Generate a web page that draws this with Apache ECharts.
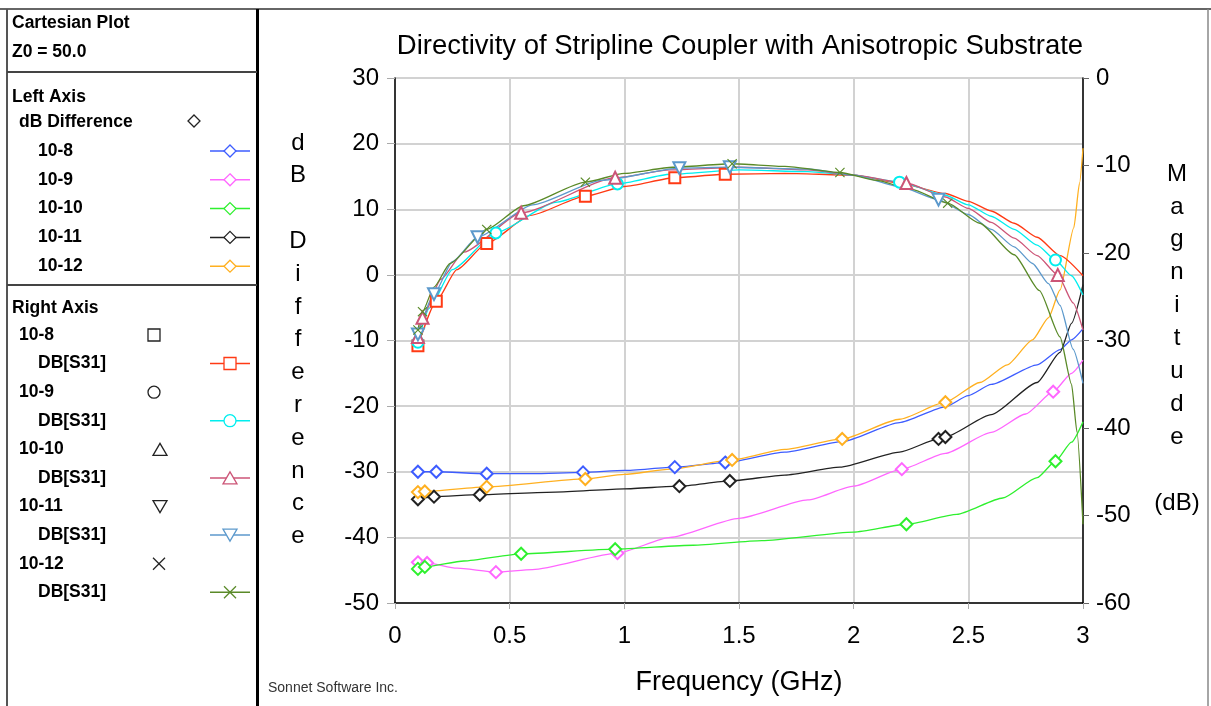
<!DOCTYPE html>
<html><head><meta charset="utf-8">
<script src="https://cdn.jsdelivr.net/npm/echarts@6/dist/echarts.min.js"></script>
<style>html,body{margin:0;padding:0;background:#fff}#c{width:1211px;height:706px}</style>
</head><body><div id="c"></div>
<script>
// ---------- DATA (frequency in GHz) ----------
// Left axis: dB Difference
const d108_f = [0.1, 0.18, 0.4, 0.6, 0.82, 1.0, 1.22, 1.44, 1.7, 1.95, 2.2, 2.4, 2.5, 2.6, 2.8, 2.9, 2.95, 3.0];
const d108_v = [-30.0, -30.0, -30.3, -30.3, -30.1, -29.8, -29.3, -28.6, -27.0, -25.4, -22.5, -20.1, -18.4, -16.7, -13.7, -11.4, -9.9, -8.2];
const d108_m = [0.1, 0.18, 0.4, 0.82, 1.22, 1.44];

const d109_f = [0.1, 0.14, 0.27, 0.44, 0.6, 0.97, 1.2, 1.5, 1.8, 2.0, 2.21, 2.4, 2.6, 2.75, 2.87, 2.95, 3.0];
const d109_v = [-43.8, -43.9, -44.7, -45.3, -44.9, -42.4, -40.0, -37.1, -34.3, -32.2, -29.6, -27.2, -24.0, -21.2, -17.8, -15.0, -13.0];
const d109_m = [0.1, 0.14, 0.44, 0.97, 2.21, 2.87];

const d1010_f = [0.1, 0.13, 0.3, 0.55, 0.96, 1.3, 1.6, 2.0, 2.23, 2.45, 2.65, 2.8, 2.88, 2.95, 3.0];
const d1010_v = [-44.8, -44.5, -43.6, -42.5, -41.8, -41.2, -40.5, -39.2, -38.0, -36.5, -34.0, -30.9, -28.4, -25.5, -22.4];
const d1010_m = [0.1, 0.13, 0.55, 0.96, 2.23, 2.88];

const d1011_f = [0.1, 0.17, 0.37, 0.7, 1.0, 1.24, 1.46, 1.7, 1.94, 2.2, 2.37, 2.4, 2.6, 2.8, 2.9, 2.95, 3.0];
const d1011_v = [-34.2, -33.8, -33.5, -33.1, -32.6, -32.2, -31.4, -30.5, -29.3, -27.0, -25.0, -24.7, -21.3, -16.4, -11.8, -7.4, -1.5];
const d1011_m = [0.1, 0.17, 0.37, 1.24, 1.46, 2.37, 2.4];

const d1012_f = [0.1, 0.13, 0.4, 0.83, 1.0, 1.2, 1.47, 1.7, 1.95, 2.2, 2.4, 2.55, 2.67, 2.78, 2.85, 2.9, 2.96, 2.985, 3.0];
const d1012_v = [-33.1, -33.0, -32.3, -31.1, -30.4, -29.6, -28.2, -26.6, -25.0, -22.0, -19.4, -16.4, -13.7, -9.9, -6.5, -2.3, 7.2, 14.0, 19.3];
const d1012_m = [0.1, 0.13, 0.4, 0.83, 1.47, 1.95, 2.4];

// Right axis: DB[S31]
const s108_f = [0.1, 0.18, 0.27, 0.4, 0.59, 0.83, 1.0, 1.22, 1.44, 1.7, 2.0, 2.2, 2.4, 2.5, 2.6, 2.7, 2.8, 2.9, 3.0];
const s108_v = [-30.6, -25.5, -21.9, -18.9, -15.7, -13.5, -12.4, -11.4, -11.0, -10.9, -11.1, -12.0, -13.2, -14.1, -15.2, -16.6, -18.2, -20.3, -22.6];
const s108_m = [0.1, 0.18, 0.4, 0.83, 1.22, 1.44];

const s109_f = [0.1, 0.15, 0.25, 0.44, 0.7, 0.97, 1.2, 1.5, 1.8, 2.0, 2.2, 2.4, 2.5, 2.6, 2.7, 2.8, 2.88, 2.95, 3.0];
const s109_v = [-30.2, -26.3, -21.9, -17.7, -14.2, -12.1, -11.0, -10.5, -10.7, -11.1, -11.9, -13.4, -14.5, -15.8, -17.3, -19.1, -20.8, -22.6, -24.8];
const s109_m = [0.1, 0.44, 0.97, 2.2, 2.88];

const s1010_f = [0.1, 0.12, 0.2, 0.3, 0.55, 0.96, 1.2, 1.5, 1.8, 2.0, 2.23, 2.4, 2.5, 2.6, 2.7, 2.8, 2.89, 2.957, 3.0];
const s1010_v = [-29.6, -27.4, -23.0, -19.9, -15.4, -11.4, -10.5, -10.2, -10.5, -11.1, -12.0, -13.6, -14.9, -16.5, -18.3, -20.3, -22.5, -25.7, -28.8];
const s1010_m = [0.1, 0.12, 0.55, 0.96, 2.23, 2.89];

const s1011_f = [0.1, 0.17, 0.25, 0.36, 0.6, 0.9, 1.24, 1.46, 1.8, 2.0, 2.2, 2.37, 2.5, 2.6, 2.7, 2.78, 2.85, 2.9, 2.957, 3.0];
const s1011_v = [-29.3, -24.7, -21.0, -18.2, -14.5, -11.7, -10.3, -10.2, -10.4, -11.1, -12.4, -13.9, -15.6, -17.3, -19.3, -21.2, -23.5, -26.0, -31.0, -34.9];
const s1011_m = [0.1, 0.17, 0.36, 1.24, 1.46, 2.37];

const s1012_f = [0.1, 0.12, 0.17, 0.24, 0.4, 0.56, 0.83, 1.0, 1.21, 1.47, 1.7, 1.94, 2.1, 2.25, 2.41, 2.55, 2.7, 2.81, 2.9, 2.95, 2.974, 3.0];
const s1012_v = [-28.8, -26.7, -23.9, -21.2, -17.3, -14.6, -11.9, -10.9, -10.2, -9.8, -10.1, -10.8, -11.7, -12.7, -14.3, -16.6, -20.2, -24.3, -29.6, -35.0, -40.5, -51.0];
const s1012_m = [0.1, 0.12, 0.4, 0.83, 1.47, 1.94, 2.41];

// ---------- STYLE ----------
const FONT = "'Liberation Sans', Arial, sans-serif";
const C = {
  b108: '#3d5cff', b109: '#ff66ff', b1010: '#2ef02e', b1011: '#222222', b1012: '#ffb020',
  r108: '#ff3a14', r109: '#00eeee', r1010: '#cc5577', r1011: '#5c99cc', r1012: '#5a8a28'
};
const XPATH = 'path://M0,0.8L0.8,0L5,4.2L9.2,0L10,0.8L5.8,5L10,9.2L9.2,10L5,5.8L0.8,10L0,9.2L4.2,5Z';

function mk(name, f, v, m, color, symbol, axis, size, rot) {
  const isX = symbol === XPATH;
  return {
    name, type: 'line', yAxisIndex: axis, smooth: 0.2, smoothMonotone: 'x',
    showAllSymbol: true, animation: false,
    lineStyle: { color, width: 1.3 },
    itemStyle: isX ? { color, borderWidth: 0 } : { color, borderColor: color, borderWidth: 1.3 },
    data: f.map((x, i) => m.includes(x)
      ? { value: [x, v[i]], symbol, symbolSize: size, symbolRotate: rot || 0 }
      : { value: [x, v[i]], symbol: 'none' })
  };
}

const series = [
  mk('10-8', d108_f, d108_v, d108_m, C.b108, 'emptyDiamond', 0, 12),
  mk('10-9', d109_f, d109_v, d109_m, C.b109, 'emptyDiamond', 0, 12),
  mk('10-10', d1010_f, d1010_v, d1010_m, C.b1010, 'emptyDiamond', 0, 12),
  mk('10-11', d1011_f, d1011_v, d1011_m, C.b1011, 'emptyDiamond', 0, 12),
  mk('10-12', d1012_f, d1012_v, d1012_m, C.b1012, 'emptyDiamond', 0, 12),
  mk('10-8 DB[S31]', s108_f, s108_v, s108_m, C.r108, 'emptyRect', 1, 11),
  mk('10-9 DB[S31]', s109_f, s109_v, s109_m, C.r109, 'emptyCircle', 1, 11),
  mk('10-10 DB[S31]', s1010_f, s1010_v, s1010_m, C.r1010, 'emptyTriangle', 1, 12),
  mk('10-11 DB[S31]', s1011_f, s1011_v, s1011_m, C.r1011, 'emptyTriangle', 1, 12, 180),
  mk('10-12 DB[S31]', s1012_f, s1012_v, s1012_m, C.r1012, XPATH, 1, 10)
];

// ---------- LEGEND PANEL (decoration) ----------
const g = [];
function txt(x, y, s, opt) {
  g.push({ type: 'text', silent: true, x, y,
    style: Object.assign({ text: s, font: 'bold 17.5px ' + FONT, fill: '#000', textVerticalAlign: 'middle' }, opt || {}) });
}
function ln(x1, y1, x2, y2, stroke, w) {
  g.push({ type: 'line', silent: true, shape: { x1, y1, x2, y2 }, style: { stroke, lineWidth: w } });
}
function sym(kind, cx, cy, color) {
  const st = { fill: '#fff', stroke: color, lineWidth: 1.3 };
  if (kind === 'diamond') g.push({ type: 'polygon', silent: true, shape: { points: [[cx, cy - 6], [cx + 6, cy], [cx, cy + 6], [cx - 6, cy]] }, style: st });
  if (kind === 'rect') g.push({ type: 'rect', silent: true, shape: { x: cx - 6, y: cy - 6, width: 12, height: 12 }, style: st });
  if (kind === 'circle') g.push({ type: 'circle', silent: true, shape: { cx, cy, r: 6 }, style: st });
  if (kind === 'tri') g.push({ type: 'polygon', silent: true, shape: { points: [[cx, cy - 6], [cx + 7, cy + 6], [cx - 7, cy + 6]] }, style: st });
  if (kind === 'tridown') g.push({ type: 'polygon', silent: true, shape: { points: [[cx, cy + 6], [cx + 7, cy - 6], [cx - 7, cy - 6]] }, style: st });
  if (kind === 'x') { ln(cx - 6, cy - 6, cx + 6, cy + 6, color, 1.3); ln(cx + 6, cy - 6, cx - 6, cy + 6, color, 1.3); }
}
function legItem(y, color, kind) { ln(210, y, 250, y, color, 1.5); sym(kind, 230, y, color); }

// frame
ln(0, 9, 1211, 9, '#666', 2);
ln(7, 9, 7, 706, '#555', 2);
ln(257.5, 9, 257.5, 706, '#000', 3);
ln(1208, 9, 1208, 706, '#888', 1.5);
ln(7, 72, 257, 72, '#444', 2);
ln(7, 285, 257, 285, '#444', 2);

txt(12, 23, 'Cartesian Plot');
txt(12, 52, 'Z0 = 50.0');
txt(12, 97, 'Left Axis');
txt(19, 122, 'dB Difference'); sym('diamond', 194, 121, '#222');
const leftNames = ['10-8', '10-9', '10-10', '10-11', '10-12'];
const leftCols = [C.b108, C.b109, C.b1010, C.b1011, C.b1012];
leftNames.forEach((n, i) => { const y = 151 + i * 28.8; txt(38, y, n); legItem(y, leftCols[i], 'diamond'); });

txt(12, 308, 'Right Axis');
const rightCols = [C.r108, C.r109, C.r1010, C.r1011, C.r1012];
const rightKinds = ['rect', 'circle', 'tri', 'tridown', 'x'];
const hdrX = [154, 154, 160, 160, 159];
leftNames.forEach((n, i) => {
  const y = 335 + i * 57.2;
  txt(19, y, n); sym(rightKinds[i], hdrX[i], y, '#222');
  txt(38, y + 28.5, 'DB[S31]'); legItem(y + 28.5, rightCols[i], rightKinds[i]);
});

// titles
txt(740, 46, 'Directivity of Stripline Coupler with Anisotropic Substrate', { font: '27.5px ' + FONT, textAlign: 'center' });
txt(739, 683, 'Frequency (GHz)', { font: '27px ' + FONT, textAlign: 'center' });
txt(268, 688, 'Sonnet Software Inc.', { font: '14px ' + FONT, fill: '#333' });
g.push({ type: 'text', silent: true, x: 298, y: 143 - 16.4, style: { text: 'd\nB\n \nD\ni\nf\nf\ne\nr\ne\nn\nc\ne', font: '24px ' + FONT, lineHeight: 32.8, textAlign: 'center', textVerticalAlign: 'top', fill: '#000' } });
g.push({ type: 'text', silent: true, x: 1177, y: 174 - 16.4, style: { text: 'M\na\ng\nn\ni\nt\nu\nd\ne\n \n(dB)', font: '24px ' + FONT, lineHeight: 32.9, textAlign: 'center', textVerticalAlign: 'top', fill: '#000' } });

const chart = echarts.init(document.getElementById('c'), null, { renderer: 'canvas' });
chart.setOption({
  animation: false,
  backgroundColor: '#fff',
  grid: { left: 395, top: 78, width: 688, height: 525, containLabel: false },
  xAxis: {
    type: 'value', min: 0, max: 3, interval: 0.5,
    axisLine: { onZero: false, lineStyle: { color: '#000', width: 1.5 } },
    axisTick: { show: true, length: 6, lineStyle: { color: '#aaa' } },
    splitLine: { show: true, lineStyle: { color: '#d2d2d2', width: 2 } },
    axisLabel: { color: '#000', fontSize: 24, fontFamily: FONT, margin: 21 }
  },
  yAxis: [
    { type: 'value', min: -50, max: 30, interval: 10, position: 'left',
      axisLine: { show: true, onZero: false, lineStyle: { color: '#000', width: 1.5 } },
      axisTick: { show: true, length: 8, lineStyle: { color: '#aaa' } },
      splitLine: { show: true, lineStyle: { color: '#d2d2d2', width: 2 } },
      axisLabel: { color: '#000', fontSize: 24, fontFamily: FONT, margin: 16 } },
    { type: 'value', min: -60, max: 0, interval: 10, position: 'right',
      axisLine: { show: true, onZero: false, lineStyle: { color: '#000', width: 1.5 } },
      axisTick: { show: true, length: 6, lineStyle: { color: '#666' } },
      splitLine: { show: false },
      axisLabel: { color: '#000', fontSize: 24, fontFamily: FONT, margin: 13 } }
  ],
  series,
  graphic: g
});
</script></body></html>
